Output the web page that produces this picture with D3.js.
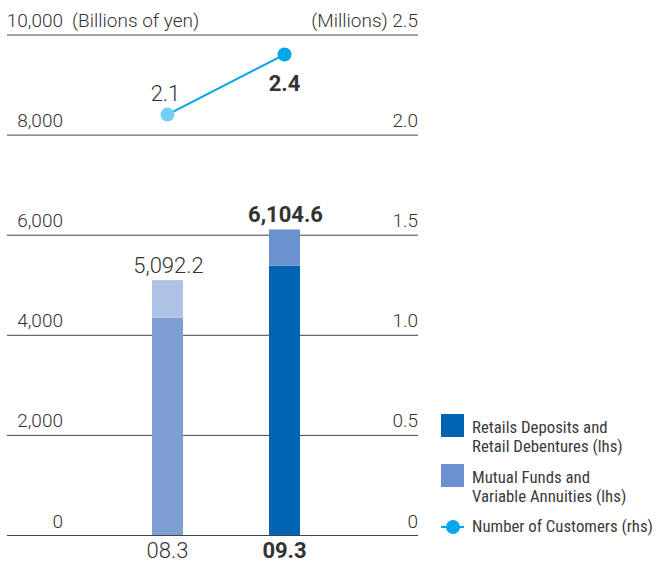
<!DOCTYPE html>
<html>
<head>
<meta charset="utf-8">
<script src="https://cdn.jsdelivr.net/npm/d3@7"></script>
<style>
body{margin:0;background:#fff;}
text{font-family:Roboto,"Liberation Sans",sans-serif;fill:#333;}
.tick-lbl{font-size:19px;font-weight:300;}
.lgd{font-family:"Liberation Sans Narrow","Roboto Condensed",Roboto,sans-serif;font-size:16.8px;fill:#3a3a3a;}
</style>
</head>
<body>
<div id="chart"></div>
<script>
// data
var periods=["08.3","09.3"];
var deposits=[4340,5380];        // Retails Deposits and Retail Debentures (lhs)
var funds=[752.2,724.6];          // Mutual Funds and Variable Annuities (lhs)
var totals=["5,092.2","6,104.6"];
var customers=[2.1,2.4];          // Number of Customers, millions (rhs)
var leftTicks=[0,2000,4000,6000,8000,10000];
var rightTicks=[0,0.5,1.0,1.5,2.0,2.5];

var width=657,height=562;
var svg=d3.select('#chart').append('svg')
	.attr('width',width).attr('height',height);

var x0=7,x1=418;
var x=d3.scalePoint().domain(periods).range([167.5,284.5]);
var yL=d3.scaleLinear().domain([0,10000]).range([535,34.5]);
var yR=d3.scaleLinear().domain([0,2.5]).range([535,34.5]);

// colours: current year solid, previous year faded
var depColor=["#7f9fd3","#0064b3"];
var fundColor=["#aec2e6","#6b92cf"];
var dotColor=["#74cff5","#00a6ea"];

// gridlines
svg.selectAll('.grid').data(leftTicks).enter()
	.append('line')
	.attr('x1',x0).attr('x2',x1)
	.attr('y1',function(d){return yL(d)+0.5}).attr('y2',function(d){return yL(d)+0.5})
	.attr('stroke','#444').attr('stroke-width',1);

// left labels
svg.selectAll('.ltick').data(leftTicks).enter()
	.append('text').attr('class','tick-lbl')
	.attr('x',63).attr('y',function(d){return yL(d)-7.5})
	.attr('text-anchor','end')
	.text(function(d){return d3.format(',')(d)});
svg.append('text').attr('class','tick-lbl')
	.attr('x',72).attr('y',yL(10000)-7.5).text('(Billions of yen)');

// right labels
svg.selectAll('.rtick').data(rightTicks).enter()
	.append('text').attr('class','tick-lbl')
	.attr('x',418).attr('y',function(d){return yR(d)-7.5})
	.attr('text-anchor','end')
	.text(function(d,i){return (i==rightTicks.length-1?'(Millions) ':'')+(d==0?'0':d3.format('.1f')(d))});

var barW=31;
// bars: deposits bottom, funds stacked on top
svg.selectAll('.dep').data(periods).enter()
	.append('rect')
	.attr('x',function(d){return x(d)-barW/2})
	.attr('y',function(d,i){return yL(deposits[i])})
	.attr('width',barW)
	.attr('height',function(d,i){return yL(0)-yL(deposits[i])})
	.attr('fill',function(d,i){return depColor[i]});
svg.selectAll('.fund').data(periods).enter()
	.append('rect')
	.attr('x',function(d){return x(d)-barW/2})
	.attr('y',function(d,i){return yL(deposits[i]+funds[i])})
	.attr('width',barW)
	.attr('height',function(d,i){return yL(deposits[i])-yL(deposits[i]+funds[i])})
	.attr('fill',function(d,i){return fundColor[i]});

// total labels
svg.selectAll('.tot').data(periods).enter()
	.append('text')
	.attr('x',function(d){return x(d)+1})
	.attr('y',function(d,i){return yL(deposits[i]+funds[i])-7})
	.attr('text-anchor','middle')
	.style('font-size','22px')
	.style('font-weight',function(d,i){return i==1?700:300})
	.text(function(d,i){return totals[i]});

// x labels
svg.selectAll('.xl').data(periods).enter()
	.append('text')
	.attr('x',function(d){return x(d)})
	.attr('y',558)
	.attr('text-anchor','middle')
	.style('font-size','22px')
	.style('font-weight',function(d,i){return i==1?700:300})
	.text(function(d){return d});

// customers line
var line=d3.line().x(function(d,i){return x(periods[i])}).y(function(d){return yR(d)});
svg.append('path').datum(customers)
	.attr('d',line).attr('fill','none')
	.attr('stroke','#00a6ea').attr('stroke-width',2);
svg.selectAll('.dot').data(customers).enter()
	.append('circle')
	.attr('cx',function(d,i){return x(periods[i])})
	.attr('cy',function(d){return yR(d)})
	.attr('r',7)
	.attr('fill',function(d,i){return dotColor[i]});
svg.selectAll('.cl').data(customers).enter()
	.append('text')
	.attr('x',function(d,i){return x(periods[i])+(i==0?-2:0)})
	.attr('y',function(d,i){return i==0?yR(d)-14:yR(d)+36})
	.attr('text-anchor','middle')
	.style('font-size','22px')
	.style('font-weight',function(d,i){return i==1?700:300})
	.text(function(d){return d3.format('.1f')(d)});

// legend
var lg=svg.append('g').attr('transform','translate(441,414)');
lg.append('rect').attr('width',23).attr('height',23).attr('fill','#0064b3');
lg.append('text').attr('class','lgd').attr('x',31).attr('y',19).text('Retails Deposits and');
lg.append('text').attr('class','lgd').attr('x',31).attr('y',38).text('Retail Debentures (lhs)');
lg.append('rect').attr('y',50).attr('width',23).attr('height',23).attr('fill','#6b92cf');
lg.append('text').attr('class','lgd').attr('x',31).attr('y',69).text('Mutual Funds and');
lg.append('text').attr('class','lgd').attr('x',31).attr('y',88).text('Variable Annuities (lhs)');
lg.append('line').attr('x1',0).attr('x2',23).attr('y1',113).attr('y2',113)
	.attr('stroke','#00a6ea').attr('stroke-width',2);
lg.append('circle').attr('cx',12).attr('cy',113).attr('r',7).attr('fill','#00a6ea');
lg.append('text').attr('class','lgd').attr('x',31).attr('y',118).text('Number of Customers (rhs)');
</script>
</body>
</html>
